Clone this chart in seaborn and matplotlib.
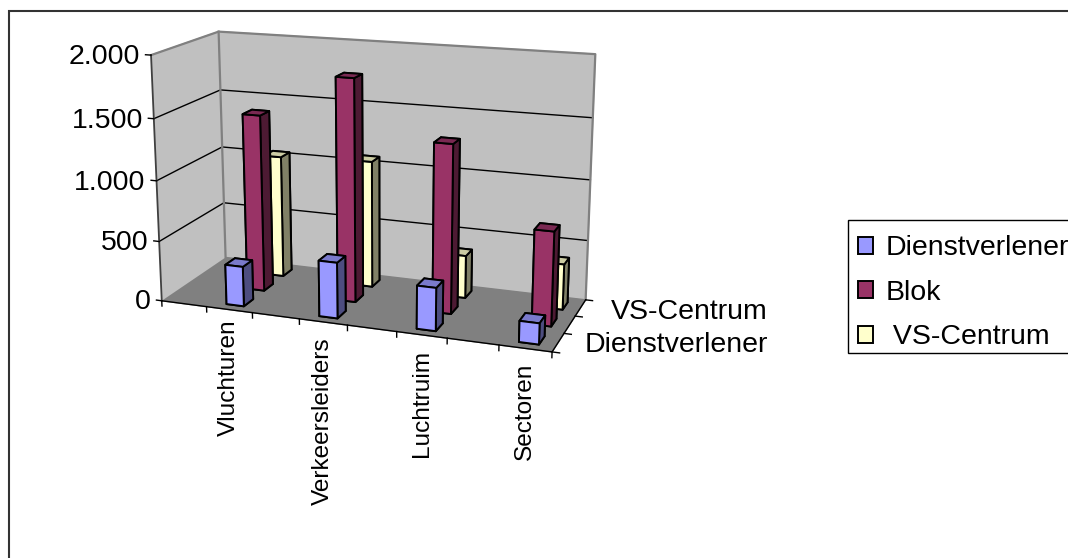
import numpy as np
import matplotlib
matplotlib.use("Agg")
import matplotlib.pyplot as plt
import matplotlib.colors as mcolors
from matplotlib.patches import Patch, Rectangle
from mpl_toolkits.mplot3d import proj3d
import seaborn as sns

# data
categories = ["Vluchturen", "Verkeersleiders", "Luchtruim", "Sectoren"]
series_names = ["Dienstverlener", "Blok", " VS-Centrum"]
dienstverlener = [330, 455, 347, 167]
blok = [1470, 1825, 1370, 760]
vs_centrum = [1035, 1065, 355, 375]
z_ticks = [0, 500, 1000, 1500, 2000]
z_tick_labels = ["0", "500", "1.000", "1.500", "2.000"]
side_labels = ["Dienstverlener", "VS-Centrum"]

sns.set_theme(style="white")
plt.rcParams["font.family"] = ["Liberation Sans", "DejaVu Sans"]
palette = sns.color_palette(["#9999FF", "#993366", "#FFFFCC"])

W, H = 1068, 558
fig = plt.figure(figsize=(W / 100, H / 100), dpi=100, facecolor="white")

# camera was fitted to the corners of the box in the picture
size = 488.3
ax = fig.add_axes([122.7 / W, (H - 431.1) / H, size / W, size / H],
                  projection="3d", computed_zorder=False)
ax.patch.set_alpha(0)
ax.view_init(15.2663, -69.8771, 0.1215)
ax.set_proj_type("persp", focal_length=0.5405)
ax.set_box_aspect((1.6004, 0.5868, 1))
ax.set_xlim(0, 4, view_margin=0)
ax.set_ylim(0, 3, view_margin=0)
ax.set_zlim(0, 2000, view_margin=0)
ax.grid(False)
ax.set_xticks([])
ax.set_yticks([])
ax.set_zticks([])
ax.xaxis.set_pane_color("#C0C0C0")
ax.yaxis.set_pane_color("#C0C0C0")
ax.zaxis.set_pane_color("#808080")
for axis in [ax.xaxis, ax.yaxis, ax.zaxis]:
    axis.line.set_color((0, 0, 0, 0))


def line3d(xs, ys, zs, color="black", lw=1.0):
    ax.plot(xs, ys, zs, color=color, lw=lw, zorder=1, solid_capstyle="projecting")


def label_at(x, y, z, text, offset=(0, 0), **kwargs):
    # plain 2D text at the projected position, so it stays upright
    u, v, _ = proj3d.proj_transform(x, y, z, ax.get_proj())
    ax.annotate(text, (u, v), xytext=offset, textcoords="offset pixels",
                annotation_clip=False, color="black", **kwargs)


# gridlines on the walls
for z in z_ticks[1:-1]:
    line3d([0, 0, 4], [0, 3, 3], [z, z, z])

# wall edges
line3d([0, 0, 4, 4], [0, 3, 3, 3], [2000, 2000, 2000, 0], "#808080", 1.6)
line3d([0, 0], [3, 3], [0, 2000], "#808080", 1.6)
line3d([0, 0], [0, 0], [0, 2000], "#404040", 1.3)
line3d([0, 4, 4], [0, 0, 3], [0, 0, 0], "black", 1.0)

# ticks
for z, label in zip(z_ticks, z_tick_labels):
    line3d([-0.06, 0], [0, 0], [z, z])
    label_at(-0.12, 0, z, label, fontsize=20.5, ha="right", va="center_baseline")
for x in np.arange(0, 4.5, 0.5):
    line3d([x, x], [0, 0], [-45, 0])
for y in range(4):
    line3d([4, 4.07], [y, y], [0, 0])

label_gaps = [10, 15, 15, 14]
for i, cat in enumerate(categories):
    label_at(i + 0.75, 0, 0, cat, offset=(0, -label_gaps[i]), fontsize=17.6, rotation=90,
             ha="center", va="top")
for label, ypix in zip(side_labels, [342, 309]):
    fig.text(768 / W, 1 - ypix / H, label, fontsize=20.5, ha="right", va="center_baseline",
             color="black")

# bars, back row first so that the front ones paint over them
bar_w, bar_d = 0.19, 0.45
rows = [dienstverlener, blok, vs_centrum]
for r in [2, 1, 0]:
    base = np.array(mcolors.to_rgb(palette[r]))
    # -z, +z, -y, +y, -x, +x
    faces = [base * 0.5, base * 0.8, base, base, base * 0.5, base * 0.5]
    for i in range(len(categories)):
        bars = ax.bar3d(i + 0.75 - bar_w / 2, r + 0.5 - bar_d / 2, 0, bar_w, bar_d, rows[r][i],
                        color=faces, shade=False, edgecolor="black", linewidth=1.4)
        bars.set_zorder(10 - r + i * 0.1)

# outer chart frame, only left and top fall inside the picture
fig.add_artist(Rectangle((9 / W, 1 - 11 / H - 2), 2, 2, transform=fig.transFigure,
                         facecolor="none", edgecolor="#333333", lw=1.5))

# legend box
fig.add_artist(Rectangle((848 / W, 1 - 353 / H), 1, 133 / H, transform=fig.transFigure,
                         facecolor="white", edgecolor="black", lw=1.0))
handles = [Patch(facecolor=c, edgecolor="black", lw=1.4) for c in palette]
fig.legend(handles, series_names, loc="upper left", bbox_to_anchor=(848 / W, 1 - 225 / H),
           borderaxespad=0, fontsize=20.5, frameon=False, labelcolor="black",
           handlelength=0.53, handleheight=0.53, handletextpad=0.42,
           labelspacing=0.65, borderpad=0.36)

fig.savefig("out.png", dpi=100)
